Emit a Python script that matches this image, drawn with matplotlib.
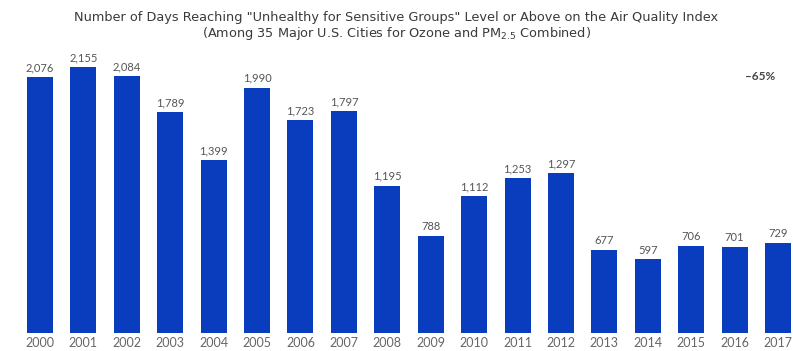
import matplotlib.pyplot as plt

years = [str(y) for y in range(2000, 2018)]
days = [2076, 2155, 2084, 1789, 1399, 1990, 1723, 1797, 1195, 788,
        1112, 1253, 1297, 677, 597, 706, 701, 729]
change_label = '\u201365%'

plt.rcParams['font.family'] = ['Lato', 'DejaVu Sans']

fig = plt.figure(figsize=(7.93, 3.51), dpi=100)
ax = fig.add_axes([0, 18 / 351, 1, 333 / 351])

x = list(range(len(years)))
ax.bar(x, days, width=0.6, color='#0a3dbd')

for xi, v in zip(x, days):
    ax.text(xi, v + 30, f'{v:,}', ha='center', va='bottom',
            fontsize=8, color='#555555')

ax.set_xlim(-0.921, 17.345)
ax.set_ylim(0, 2700)
ax.set_xticks(x)
ax.set_xticklabels(years, fontsize=9, color='#666666')
ax.tick_params(axis='x', length=0, pad=3)
ax.set_yticks([])
for s in ax.spines.values():
    s.set_visible(False)

title_font = dict(ha='center', va='center', fontsize=9.3, color='#3a3a3a',
                  family=['DejaVu Sans'])
fig.text(0.5, 1 - 18 / 351,
         'Number of Days Reaching "Unhealthy for Sensitive Groups" Level or Above on the Air Quality Index',
         **title_font)
fig.text(0.5, 1 - 34 / 351,
         '(Among 35 Major U.S. Cities for Ozone and PM$_{2.5}$ Combined)',
         **title_font)
fig.text(760 / 793, 1 - 76 / 351, change_label, ha='center', va='center',
         fontsize=8.5, fontweight='bold', color='#444444')

fig.savefig('out.png', dpi=100)
